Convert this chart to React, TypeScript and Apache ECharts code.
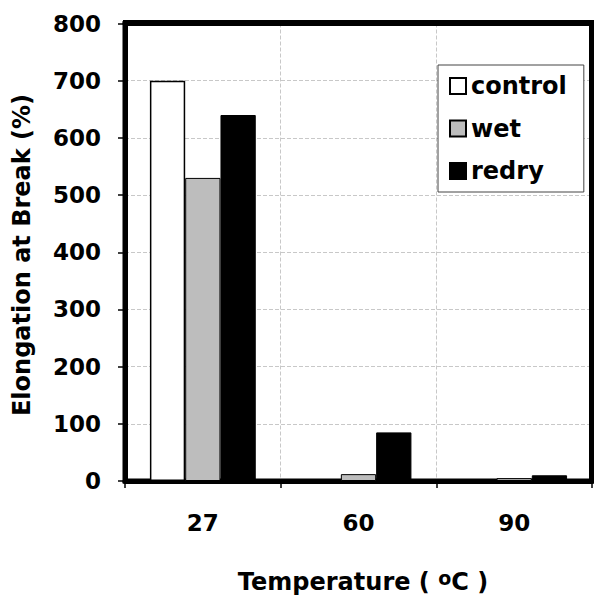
import React, { useEffect, useRef } from 'react';
import * as echarts from 'echarts';

const categories = ['27', '60', '90'];
const controlValues = [700, 2, 1];
const wetValues = [530, 12, 5];
const redryValues = [640, 85, 10];
const yMin = 0;
const yMax = 800;
const yStep = 100;
const seriesNames = ['control', 'wet', 'redry'];
const xTitle = ['Temperature ( ', 'o', 'C )'];
const yTitle = 'Elongation at Break (%)';

export default function App() {
  const ref = useRef<HTMLDivElement>(null);
  useEffect(() => {
    document.body.style.margin = '0';
    const chart = echarts.init(ref.current!, null, { renderer: 'svg' });
    const font = 'DejaVu Sans';
    chart.setOption({
      animation: false,
      grid: { left: 125, right: 2, top: 23.5, bottom: 114, show: true, borderColor: '#000', borderWidth: 5 },
      legend: {
        orient: 'vertical', left: 438, top: 65, align: 'left',
        data: seriesNames,
        icon: 'rect', itemWidth: 16, itemHeight: 16, itemGap: 16.5,
        backgroundColor: '#fff', borderColor: '#444', borderWidth: 1,
        padding: [8, 17, 8, 11],
        textStyle: { fontFamily: font, fontWeight: 'bold', fontSize: 24, color: '#000', lineHeight: 26 },
      },
      xAxis: [
        {
          type: 'category', data: categories,
          axisLine: { show: true, lineStyle: { color: '#000', width: 5 } },
          axisTick: { show: true, length: 7, lineStyle: { color: '#000', width: 1.5 } },
          axisLabel: { fontSize: 23, fontWeight: 'bold', color: '#000', fontFamily: font, margin: 30 },
          splitLine: { show: true, lineStyle: { color: '#c8c8c8', type: 'dashed', width: 1 } },
        },
        {
          type: 'category', data: categories, position: 'top',
          axisLine: { show: true, onZero: false, lineStyle: { color: '#000', width: 5 } },
          axisTick: { show: false }, axisLabel: { show: false }, splitLine: { show: false },
        },
      ],
      yAxis: {
        type: 'value', min: yMin, max: yMax, interval: yStep,
        axisLine: { show: true, lineStyle: { color: '#000', width: 5 } },
        axisTick: { show: true, length: 7, lineStyle: { color: '#000', width: 1.5 } },
        axisLabel: { fontSize: 23, fontWeight: 'bold', color: '#000', fontFamily: font, margin: 24 },
        splitLine: { show: true, lineStyle: { color: '#c8c8c8', type: 'dashed', width: 1 } },
      },
      graphic: [
        {
          type: 'text', x: 363, y: 582,
          style: {
            text: `{a|${xTitle[0]}}{s|${xTitle[1]}}{a|${xTitle[2]}}`,
            align: 'center', verticalAlign: 'middle',
            rich: {
              a: { fontFamily: font, fontWeight: 'bold', fontSize: 24, fill: '#000', lineHeight: 28 },
              s: { fontFamily: font, fontWeight: 'bold', fontSize: 19, fill: '#000', verticalAlign: 'top', lineHeight: 20 },
            },
          },
        },
        {
          type: 'text', x: 22, y: 255, rotation: Math.PI / 2,
          style: {
            text: yTitle, align: 'center', verticalAlign: 'middle',
            font: `bold 24px "${font}"`, fill: '#000',
          },
        },
      ],
      series: [
        {
          name: seriesNames[0], type: 'bar', data: controlValues,
          barGap: '0%', barCategoryGap: '32%',
          itemStyle: { color: '#ffffff', borderColor: '#000', borderWidth: 1.5 },
        },
        {
          name: seriesNames[1], type: 'bar', data: wetValues,
          itemStyle: { color: '#bdbdbd', borderColor: '#000', borderWidth: 1 },
        },
        {
          name: seriesNames[2], type: 'bar', data: redryValues,
          itemStyle: { color: '#000000', borderColor: '#000', borderWidth: 1 },
        },
      ],
    });
    return () => chart.dispose();
  }, []);
  return (
    <div style={{ position: 'relative', width: 594, height: 595 }}>
      <div ref={ref} style={{ width: 594, height: 595 }} />
      <div
        style={{
          position: 'absolute', left: 123, top: 20, width: 471, height: 461,
          boxSizing: 'border-box', borderTop: '6px solid #000', borderRight: '5px solid #000',
          pointerEvents: 'none',
        }}
      />
    </div>
  );
}
